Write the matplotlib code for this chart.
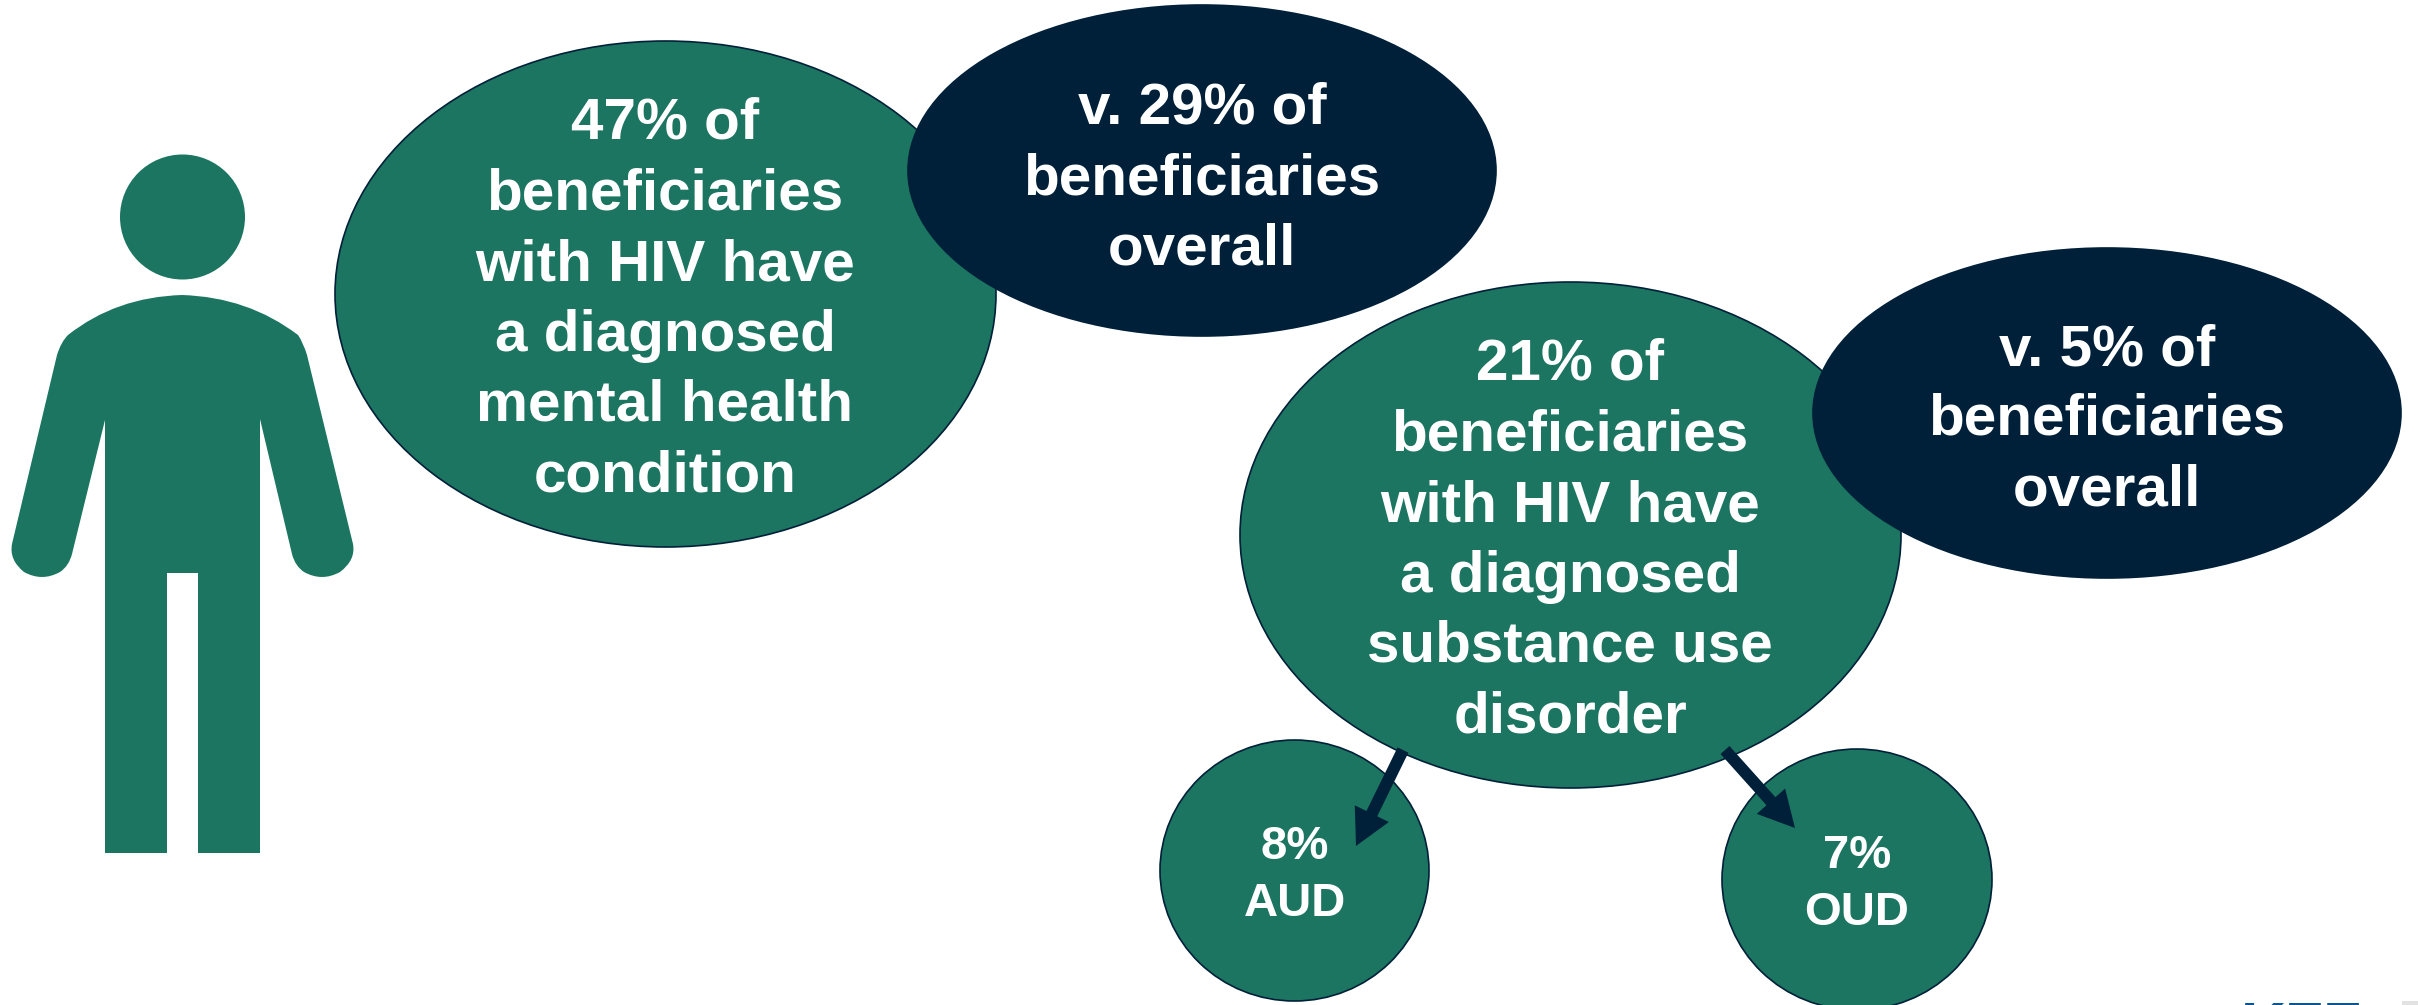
"""
HIV beneficiaries infographic: person icon with mental health / substance use bubbles
"""

import matplotlib
matplotlib.use('Agg')
import matplotlib.pyplot as plt
from matplotlib.path import Path
from matplotlib.patches import Ellipse, PathPatch, FancyArrow, Rectangle

plt.rcParams['font.family'] = ['Liberation Sans', 'DejaVu Sans']

# Values
mental_health_hiv = 47
mental_health_overall = 29
substance_use_hiv = 21
substance_use_overall = 5
aud_share = 8
oud_share = 7

mental_lines = [f'{mental_health_hiv}% of', 'beneficiaries', 'with HIV have', 'a diagnosed', 'mental health', 'condition']
mental_overall_lines = [f'v. {mental_health_overall}% of', 'beneficiaries', 'overall']
substance_lines = [f'{substance_use_hiv}% of', 'beneficiaries', 'with HIV have', 'a diagnosed', 'substance use', 'disorder']
substance_overall_lines = [f'v. {substance_use_overall}% of', 'beneficiaries', 'overall']
aud_lines = [f'{aud_share}%', 'AUD']
oud_lines = [f'{oud_share}%', 'OUD']

GREEN = '#1b7560'
NAVY = '#002039'
LOGO_BLUE = '#0b5592'

W, H = 2418, 1005
fig = plt.figure(figsize=(W / 100, H / 100), dpi=100, facecolor='white')
ax = fig.add_axes([0, 0, 1, 1])
ax.set_xlim(0, W)
ax.set_ylim(H, 0)
ax.axis('off')


def bubble(x0, x1, y0, y1, color, z):
    ax.add_patch(Ellipse(((x0 + x1) / 2, (y0 + y1) / 2), x1 - x0, y1 - y0,
                         facecolor=color, edgecolor=NAVY, linewidth=1.2, zorder=z))


def label(lines, cx, ys, size):
    for line, y in zip(lines, ys):
        ax.text(cx, y, line, color='white', fontsize=size, fontweight='bold',
                ha='center', va='center', zorder=10)


# Person icon
ax.add_patch(Ellipse((182.5, 217), 125, 125, facecolor=GREEN, edgecolor='none', zorder=2))
L, Q, M = Path.LINETO, Path.CURVE3, Path.MOVETO
body = [
    ((182, 295), M),
    ((248, 297), Q), ((298, 335), Q),      # right shoulder
    ((303, 342), Q), ((307, 355), Q),
    ((353, 544), L),
    ((356, 560), Q), ((340, 572), Q),      # right hand
    ((322, 582), Q), ((304, 572), Q),
    ((295, 566), Q), ((292, 554), Q),
    ((260, 419), L), ((260, 853), L), ((198, 853), L), ((198, 573), L),
    ((167, 573), L), ((167, 853), L), ((105, 853), L), ((105, 420), L),
    ((72, 554), L),
    ((69, 566), Q), ((60, 572), Q),        # left hand
    ((42, 582), Q), ((24, 572), Q),
    ((9, 560), Q), ((12, 544), Q),
    ((57, 355), L),
    ((61, 342), Q), ((68, 335), Q),
    ((116, 297), Q), ((182, 295), Q),      # left shoulder
]
ax.add_patch(PathPatch(Path([p for p, _ in body], [c for _, c in body]),
                       facecolor=GREEN, edgecolor='none', zorder=2))

# Bubbles, later ones sit on top
bubble(335, 996, 41, 547, GREEN, 3)
bubble(908, 1496, 5, 336, NAVY, 4)
bubble(1160, 1429, 740, 1001, GREEN, 3)
bubble(1722, 1992, 749, 1010, GREEN, 3)
bubble(1240, 1901, 282, 788, GREEN, 4)
bubble(1813, 2401, 248, 578, NAVY, 5)

# Arrows down to the AUD / OUD bubbles
ax.add_patch(FancyArrow(1403, 750, 1356 - 1403, 846 - 750, width=12, head_width=38, head_length=36,
                        length_includes_head=True, facecolor=NAVY, edgecolor='none', zorder=6))
ax.add_patch(FancyArrow(1725, 750, 1795 - 1725, 828 - 750, width=12, head_width=38, head_length=36,
                        length_includes_head=True, facecolor=NAVY, edgecolor='none', zorder=6))

# Text
label(mental_lines, 665, [123, 194, 265, 336, 405, 476], 42)
label(mental_overall_lines, 1202, [108, 179, 249], 42)
label(substance_lines, 1570, [364, 435, 506, 577, 646, 717], 42)
label(substance_overall_lines, 2107, [350, 419, 490], 42)
label(aud_lines, 1295, [847, 904], 34)
label(oud_lines, 1857, [856, 913], 34)

# Logo cut off by the bottom edge
ax.text(2241, 1000, 'KFF', color=LOGO_BLUE, fontsize=45, fontweight='bold', ha='left', va='top')
ax.add_patch(Rectangle((2402, 1001), 16, 4, facecolor='#e2e2e2', edgecolor='none'))

fig.savefig('out.png', dpi=100, facecolor='white')
